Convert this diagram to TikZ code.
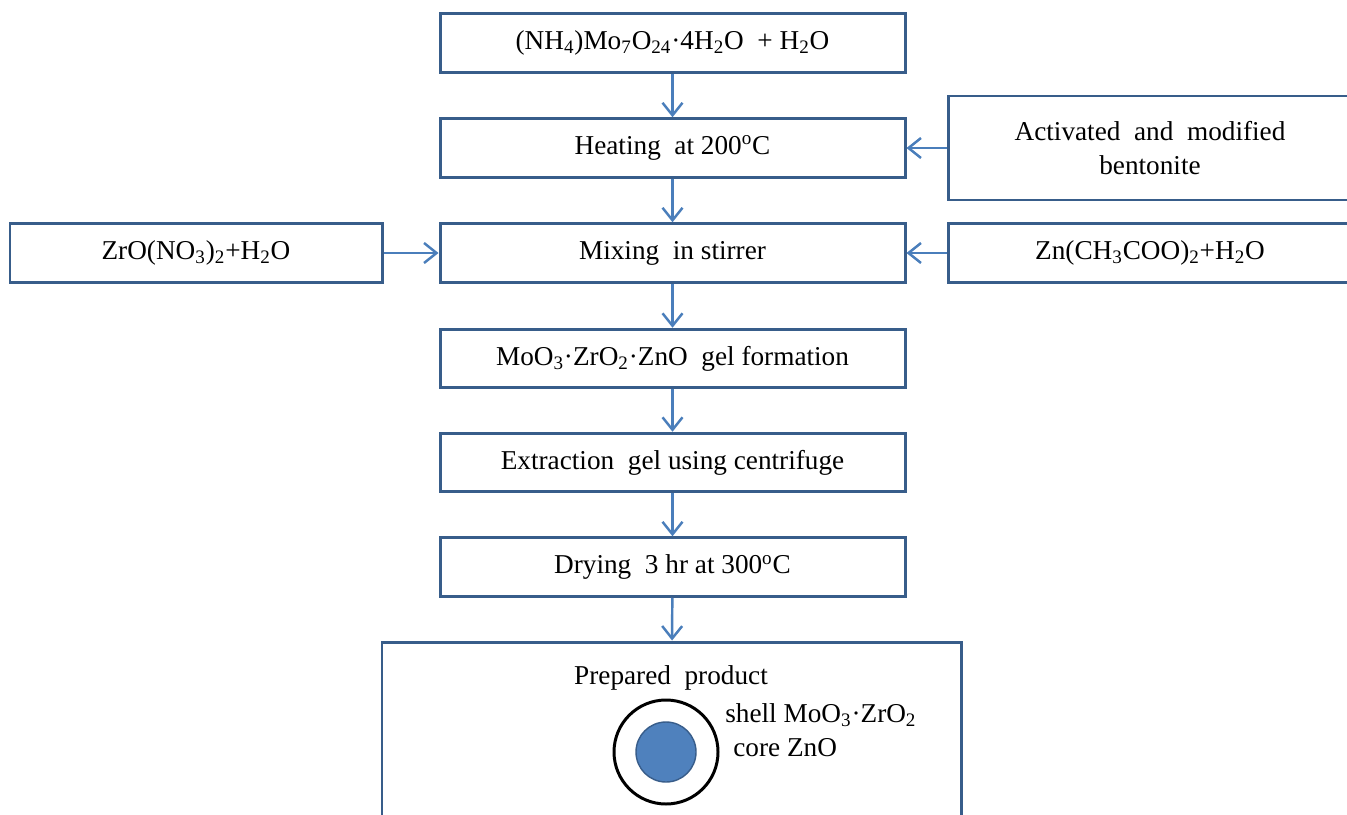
\documentclass[tikz,border=0pt]{standalone}
\usepackage{fontspec}
\setmainfont{Liberation Serif}
\usetikzlibrary{arrows.meta,positioning}
\definecolor{bc}{RGB}{56,93,138}
\definecolor{ac}{RGB}{74,126,187}
\definecolor{cc}{RGB}{79,129,189}
\tikzset{box/.style={draw=bc,line width=1.7pt,fill=white,align=center,minimum width=9.3cm,minimum height=1.17cm,inner sep=2pt},
 side/.style={box,minimum width=8.08cm},
 arr/.style={draw=ac,-{Straight Barb[length=2.5mm,width=4mm]},line width=1.4pt},
 every node/.style={font=\fontsize{15.5}{19}\selectfont}}
\newcommand{\sub}[1]{\textsubscript{#1}}
\newcommand{\dg}{\textsuperscript{o}}
\begin{document}
\begin{tikzpicture}
\useasboundingbox (0,0) rectangle (26.94,-16.28);
\clip (0,0) rectangle (26.94,-16.28);
% main column
\node[box] (src) at (13.45,-0.86) {(NH\sub{4})Mo\sub{7}O\sub{24}·4H\sub{2}O \ + H\sub{2}O};
\node[box] (heat) at (13.45,-2.96) {Heating \ at 200\dg C};
\node[box] (mix) at (13.45,-5.06) {Mixing \ in stirrer};
\node[box] (gel) at (13.45,-7.17) {MoO\sub{3}·ZrO\sub{2}·ZnO \ gel formation};
\node[box] (ext) at (13.45,-9.25) {Extraction \ gel using centrifuge};
\node[box] (dry) at (13.45,-11.34) {Drying \ 3 hr at 300\dg C};
% side inputs
\node[side,minimum height=2.08cm] (bent) at (23,-2.96) {Activated \ and \ modified\\bentonite};
\node[box,minimum width=7.44cm] (zro) at (3.92,-5.06) {ZrO(NO\sub{3})\sub{2}+H\sub{2}O};
\node[side] (zn) at (23,-5.06) {Zn(CH\sub{3}COO)\sub{2}+H\sub{2}O};
% product box with core-shell particle
\node[box,minimum width=11.58cm,minimum height=3.76cm] (prod) at (13.43,-14.72) {};
\node (pp) at (13.42,-13.56) {Prepared \ product};
\draw[black,line width=1.7pt] (13.32,-15.04) circle (1.04);
\draw[bc,fill=cc,line width=0.8pt] (13.32,-15.04) circle (0.6);
\node[anchor=west,inner sep=0pt] (shell) at (14.5,-14.3) {shell MoO\sub{3}·ZrO\sub{2}};
\node[anchor=west,inner sep=0pt] (core) at (14.66,-14.96) {core ZnO};
% connectors
\draw[arr] (src)--(heat);\draw[arr] (heat)--(mix);\draw[arr] (mix)--(gel);
\draw[arr] (gel)--(ext);\draw[arr] (ext)--(dry);\draw[arr] (dry)--(prod);
\draw[arr] (bent)--(heat);\draw[arr] (zro)--(mix);\draw[arr] (zn)--(mix);
\end{tikzpicture}
\end{document}
